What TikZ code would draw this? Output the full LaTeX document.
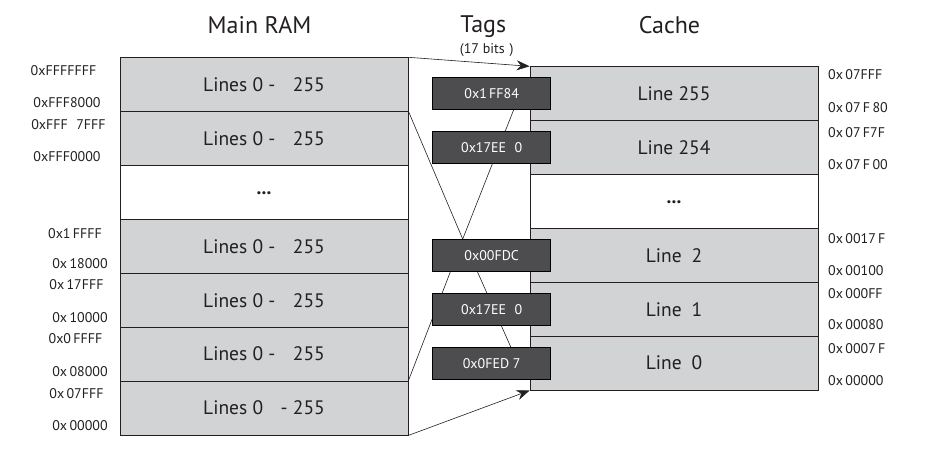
\documentclass[tikz,border=0pt]{standalone}
\usepackage{fontspec}
\setmainfont{PT Sans}
\usetikzlibrary{arrows.meta,backgrounds,calc}
\definecolor{rowgray}{HTML}{D1D3D4}
\definecolor{tagfill}{HTML}{4D4D4F}
\definecolor{ink}{HTML}{231F20}
\newcommand{\mydots}{\raisebox{-5pt}{\textbf{...}}}
\begin{document}
\begin{tikzpicture}[x=1pt,y=-1pt,
  row/.style={draw=ink, line width=0.8pt, fill=rowgray, minimum width=288pt, minimum height=53.9pt, inner sep=0pt, font=\fontsize{19.5}{19.5}\selectfont, text=ink},
  blank/.style={row, fill=white},
  tagbox/.style={draw=black, line width=0.6pt, fill=tagfill, minimum width=118pt, minimum height=32pt, inner sep=0pt, text=white, font=\fontsize{14}{14}\selectfont},
  addr/.style={font=\fontsize{14}{14}\selectfont, text=ink, inner sep=0pt},
  title/.style={font=\fontsize{24}{24}\selectfont, text=ink, inner sep=0pt, anchor=base},
  link/.style={draw=ink, line width=0.6pt},
  arrowlink/.style={link, -{Stealth[length=13pt,width=10pt]}}]
\useasboundingbox (0,0) rectangle (935,453);

% titles
\node[title] (tmain) at (259.5,33.3) {Main RAM};
\node[title] (ttags) at (483.3,32.3) {Tags};
\node[title, font=\fontsize{14}{14}\selectfont] (tbits) at (486.7,53.3) {(17 bits\hspace{0.35em})};
\node[title] (tcache) at (669.5,33.3) {Cache};

% main RAM rows
\node[row] (r0) at (264,84.65) {Lines 0 -\hspace{0.9em}255};
\node[row] (r1) at (264,138.55) {Lines 0 -\hspace{0.9em}255};
\node[blank] (r2) at (264,192.45) {\mydots};
\node[row] (r3) at (264,246.35) {Lines 0 -\hspace{0.9em}255};
\node[row] (r4) at (264,300.25) {Lines 0 -\hspace{0.9em}255};
\node[row] (r5) at (264,354.15) {Lines 0 -\hspace{0.9em}255};
\node[row] (r6) at (264,408.05) {Lines 0\hspace{0.9em}- 255};

% cache rows
\node[row] (c0) at (674,93.65) {Line 255};
\node[row] (c1) at (674,147.55) {Line 254};
\node[blank] (c2) at (674,201.45) {\mydots};
\node[row] (c3) at (674,255.35) {Line\hspace{0.5em}2};
\node[row] (c4) at (674,309.25) {Line\hspace{0.5em}1};
\node[row] (c5) at (674,363.15) {Line\hspace{0.5em}0};

% tags
\node[tagbox] (t0) at (491.7,93.65) {0x1\,FF84};
\node[tagbox] (t1) at (491.7,147.55) {0x17EE\hspace{0.6em}0};
\node[tagbox] (t3) at (491.7,255.35) {0x00FDC};
\node[tagbox] (t4) at (491.7,309.25) {0x17EE\hspace{0.6em}0};
\node[tagbox] (t5) at (491.7,363.15) {0x0FED 7};

% left addresses
\node[addr] (a0) at (63.5,70.7) {0xFFFFFFF};
\node[addr] (a1) at (67,102.7) {0xFFF8000};
\node[addr] (a2) at (68.5,125) {0xFFF\hspace{0.6em}7FFF};
\node[addr] (a3) at (67,156.7) {0xFFF0000};
\node[addr] (a4) at (75,233.3) {0x1\,FFFF};
\node[addr] (a5) at (80,263.3) {0x\,18000};
\node[addr] (a6) at (76.5,285) {0x\,17FFF};
\node[addr] (a7) at (80,317.7) {0x\,10000};
\node[addr] (a8) at (75.5,338.3) {0x0\,FFFF};
\node[addr] (a9) at (80,371.7) {0x\,08000};
\node[addr] (a10) at (76.5,393.3) {0x\,07FFF};
\node[addr] (a11) at (80,426) {0x\,00000};

% right addresses
\node[addr, anchor=west] (b0) at (828,75) {0x\,07FFF};
\node[addr, anchor=west] (b1) at (828,107.7) {0x\,07\,F\,80};
\node[addr, anchor=west] (b2) at (828,132.7) {0x\,07\,F7F};
\node[addr, anchor=west] (b3) at (828,165) {0x\,07\,F\,00};
\node[addr, anchor=west] (b4) at (828,239) {0x\,0017\,F};
\node[addr, anchor=west] (b5) at (828,271) {0x\,00100};
\node[addr, anchor=west] (b6) at (828,293.3) {0x\,000FF};
\node[addr, anchor=west] (b7) at (828,325) {0x\,00080};
\node[addr, anchor=west] (b8) at (828,348.3) {0x\,0007\,F};
\node[addr, anchor=west] (b9) at (828,381) {0x\,00000};

% connectors behind the tags
\coordinate (m3) at ([xshift=30.3pt]t3.north west);
\coordinate (t0s) at ([xshift=-37.4pt]t0.south east);
\coordinate (t3sl) at ([xshift=18pt]t3.south west);
\coordinate (t3sr) at ([xshift=45pt]t3.south west);
\coordinate (t5n) at ([xshift=78.3pt]t5.north west);
\begin{pgfonlayer}{background}
  \draw[link] (r1.north east) -- (m3);
  \draw[link] (t0s) -- (m3);
  \draw[link] (r6.north east) -- (t3sl);
  \draw[link] (t3sr) -- (t5n);
\end{pgfonlayer}

% arrows
\draw[arrowlink] (r0.north east) -- (c0.north west);
\draw[arrowlink] (r6.south east) -- (c5.south west);
\end{tikzpicture}
\end{document}
